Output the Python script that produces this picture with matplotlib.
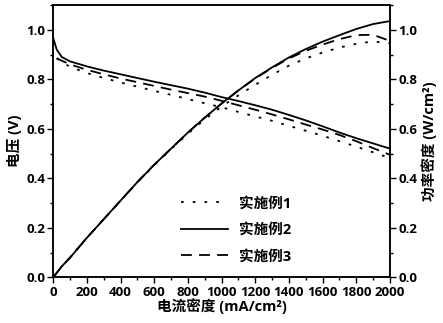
import matplotlib
matplotlib.use("Agg")
import matplotlib.pyplot as plt
from matplotlib.ticker import MultipleLocator, FormatStrFormatter

plt.rcParams['font.family'] = ['Open Sans', 'Noto Sans CJK SC', 'DejaVu Sans']
plt.rcParams['font.weight'] = 'bold'

current = [0, 20, 50, 100, 200, 300, 400, 500, 600, 700, 800, 900, 1000,
           1100, 1200, 1300, 1400, 1500, 1600, 1700, 1800, 1900, 2000]
current_v13 = current[1:]

# Voltage (V)
v_ex1 = [0.885, 0.870, 0.850, 0.825, 0.805, 0.787, 0.770, 0.753, 0.737, 0.720,
         0.703, 0.687, 0.668, 0.650, 0.632, 0.612, 0.592, 0.572, 0.550, 0.528,
         0.505, 0.482]
v_ex2 = [0.965, 0.920, 0.890, 0.872, 0.852, 0.835, 0.820, 0.805, 0.790, 0.776,
         0.762, 0.746, 0.728, 0.712, 0.695, 0.677, 0.656, 0.634, 0.610, 0.585,
         0.562, 0.541, 0.520]
v_ex3 = [0.885, 0.875, 0.860, 0.838, 0.820, 0.803, 0.788, 0.773, 0.758, 0.744,
         0.730, 0.713, 0.695, 0.677, 0.658, 0.638, 0.617, 0.597, 0.575, 0.550,
         0.522, 0.495]

# Power density (W/cm2)
p_ex1 = [0.0, 0.018, 0.044, 0.080, 0.160, 0.235, 0.310, 0.384, 0.453, 0.518,
         0.580, 0.638, 0.690, 0.735, 0.778, 0.818, 0.855, 0.884, 0.908, 0.928,
         0.943, 0.953, 0.945]
p_ex2 = [0.0, 0.018, 0.044, 0.080, 0.160, 0.235, 0.310, 0.385, 0.455, 0.520,
         0.585, 0.645, 0.702, 0.755, 0.805, 0.848, 0.888, 0.922, 0.952, 0.978,
         1.003, 1.023, 1.035]
p_ex3 = [0.0, 0.018, 0.044, 0.080, 0.160, 0.235, 0.310, 0.385, 0.455, 0.520,
         0.585, 0.645, 0.702, 0.755, 0.803, 0.846, 0.884, 0.915, 0.940, 0.962,
         0.978, 0.980, 0.955]

labels = ['实施例1', '实施例2', '实施例3']
styles = [(0, (1.5, 5)), '-', (0, (6, 4))]

fig = plt.figure(figsize=(4.43, 3.23), dpi=100)
ax = fig.add_axes([0.1204, 0.1415, 0.7596, 0.843])
ax2 = ax.twinx()

lw = 1.3
handles = []
for xv, v, p, ls, lab in zip([current_v13, current, current_v13],
                             [v_ex1, v_ex2, v_ex3], [p_ex1, p_ex2, p_ex3], styles, labels):
    h, = ax.plot(xv, v, color='black', lw=lw, ls=ls, label=lab)
    ax2.plot(current, p, color='black', lw=lw, ls=ls)
    handles.append(h)

ax.set_xlim(0, 2000)
ax.set_ylim(0, 1.1)
ax2.set_ylim(0, 1.1)

ax.xaxis.set_major_locator(MultipleLocator(200))
ax.xaxis.set_minor_locator(MultipleLocator(100))
for a in (ax, ax2):
    a.set_yticks([0, 0.2, 0.4, 0.6, 0.8, 1.0])
    a.yaxis.set_minor_locator(MultipleLocator(0.1))
    a.yaxis.set_major_formatter(FormatStrFormatter('%.1f'))
    a.tick_params(which='major', direction='out', length=4, width=1, labelsize=9.5, pad=2)
    a.tick_params(which='minor', direction='out', length=2, width=1)
    for s in a.spines.values():
        s.set_linewidth(1.1)

for lab in ax.get_xticklabels() + ax.get_yticklabels() + ax2.get_yticklabels():
    lab.set_fontweight('bold')

ax.set_xlabel('电流密度 (mA/cm²)', fontsize=10.5, fontweight='bold', labelpad=0)
ax.set_ylabel('电压 (V)', fontsize=10.5, fontweight='bold', labelpad=3)
ax2.set_ylabel('功率密度 (W/cm²)', fontsize=10.5, fontweight='bold', rotation=90, labelpad=3)

leg = ax.legend(handles=handles, loc='upper left', bbox_to_anchor=(0.34, 0.345),
                frameon=False, handlelength=3.2, labelspacing=0.85,
                handletextpad=0.8, prop={'weight': 'bold', 'size': 10.5})

fig.savefig('out.png', dpi=100)
